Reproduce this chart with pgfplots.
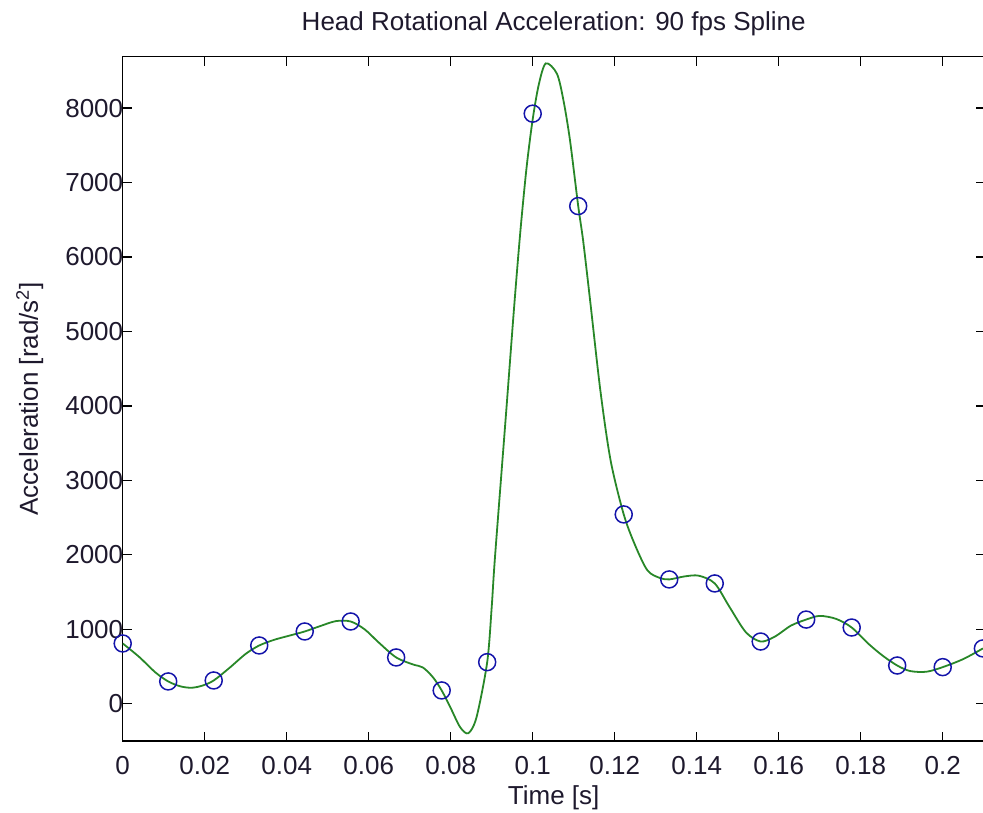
\documentclass[border=0pt]{standalone}
\usepackage{pgfplots}
\pgfplotsset{compat=1.18}
\usepackage{fontspec}
\setmainfont{Liberation Sans}
\definecolor{mgreen}{RGB}{40,135,40}
\definecolor{mblue}{RGB}{20,20,170}
\definecolor{mtext}{RGB}{30,25,45}
\begin{document}
\begin{tikzpicture}
\path[use as bounding box] (-122.7pt,-71pt) rectangle (860.3pt,741pt);
\begin{axis}[
  at={(0,0)}, anchor=south west,
  scale only axis, width=862pt, height=684.3pt,
  xmin=0, xmax=0.21024, ymin=-500, ymax=8690,
  xtick={0,0.02,0.04,0.06,0.08,0.1,0.12,0.14,0.16,0.18,0.2},
  xticklabels={0,0.02,0.04,0.06,0.08,0.1,0.12,0.14,0.16,0.18,0.2},
  ytick={0,1000,2000,3000,4000,5000,6000,7000,8000},
  yticklabels={0,1000,2000,3000,4000,5000,6000,7000,8000},
  tick align=inside, major tick length=9pt,
  tick style={line width=1.3pt, black},
  axis line style={line width=1.4pt},
  font=\fontsize{26}{30}\selectfont,
  ticklabel style={font=\fontsize{26}{30}\selectfont, text=mtext},
  label style={text=mtext},
  title style={text=mtext},
  xticklabel style={anchor=base, yshift=-33pt},
  yticklabel style={xshift=4pt},
  title={Head Rotational Acceleration: 90 fps Spline},
  title style={at={(axis description cs:0.5,1)}, anchor=base, yshift=20pt},
  xlabel={Time [s]},
  ylabel={Acceleration [rad/s\textsuperscript{2}]},
  xlabel style={at={(axis description cs:0.5,0)}, anchor=base, yshift=-63pt},
  ylabel style={at={(axis description cs:-0.0983,0.5)}, anchor=base},
  clip=true,
]
\addplot[mgreen, line width=1.8pt, smooth, tension=0.5] coordinates {
(0,810) (0.004,630) (0.008,420) (0.0111,300) (0.014,235) (0.0168,215)
(0.0195,245) (0.0222,313) (0.026,480) (0.03,670) (0.0333,783) (0.037,860)
(0.041,920) (0.0444,971) (0.048,1040) (0.052,1110) (0.0556,1105) (0.059,1000)
(0.0625,820) (0.0667,622) (0.0708,528) (0.0732,488) (0.0757,354) (0.0778,179)
(0.0799,-46) (0.0823,-314) (0.0843,-395) (0.0863,-180) (0.0889,559) (0.09,1298)
(0.0908,1969) (0.0935,3900) (0.0955,5350) (0.097,6350) (0.0985,7200)
(0.1,7850) (0.1015,8320) (0.1032,8600) (0.1059,8462) (0.1075,8103) (0.1091,7565)
(0.1111,6684) (0.1123,6220) (0.114,5417) (0.1165,4208) (0.119,3268) (0.1222,2543)
(0.125,2126) (0.128,1790) (0.131,1690) (0.1333,1670) (0.137,1710) (0.1405,1720)
(0.1444,1616) (0.148,1300) (0.152,960) (0.1556,836) (0.159,900) (0.163,1050)
(0.1667,1131) (0.170,1180) (0.174,1140) (0.1778,1024) (0.182,800) (0.1855,640)
(0.1889,514) (0.192,440) (0.196,430) (0.2,492) (0.205,600) (0.2098,743)
};
\addplot[only marks, mark=o, mark size=8.5pt, mark options={mblue, line width=1.5pt}] coordinates {
(0,810) (0.0111,300) (0.0222,313) (0.0333,783) (0.0444,971) (0.0556,1105)
(0.0667,622) (0.0778,179) (0.0889,559) (0.1,7925) (0.1111,6684) (0.1222,2543)
(0.1333,1670) (0.1444,1616) (0.1556,836) (0.1667,1131) (0.1778,1024) (0.1889,514)
(0.2,492) (0.2098,743)
};
\end{axis}
\end{tikzpicture}
\end{document}
